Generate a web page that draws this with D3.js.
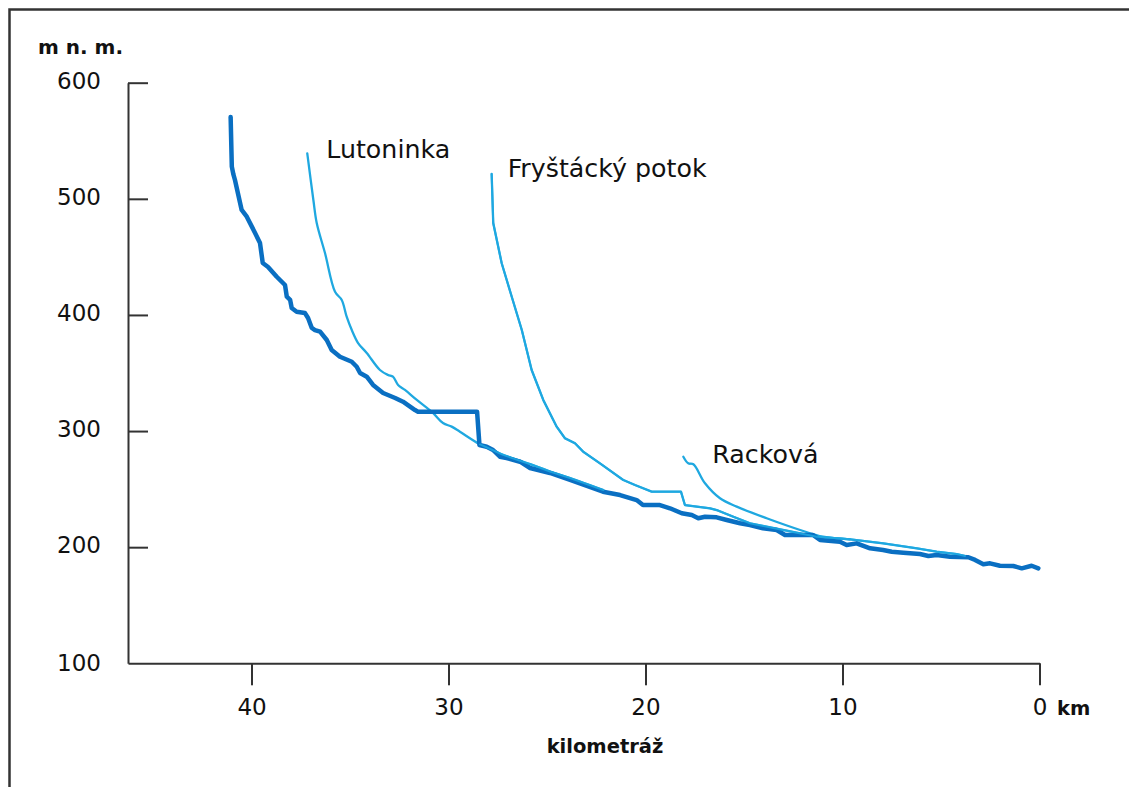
<!DOCTYPE html>
<html>
<head>
<meta charset="utf-8">
<script src="https://cdn.jsdelivr.net/npm/d3@7"></script>
<style>
  html, body { margin: 0; padding: 0; background: #fff; }
  svg { display: block; }
  text { font-family: "DejaVu Sans", Verdana, sans-serif; fill: #111; }
</style>
</head>
<body>
<svg id="chart" width="1129" height="787"></svg>
<script>
// ---- data (km from mouth, elevation m n. m.) ----
const mainKm = [41.06,41.00,40.92,40.84,40.50,40.24,39.82,39.57,39.43,39.16,38.72,38.30,38.21,38.04,37.96,37.71,37.29,37.13,36.94,36.78,36.52,36.18,35.93,35.51,34.91,34.66,34.49,34.15,33.83,33.32,32.71,32.31,32.06,31.70,31.55,28.55,28.43,28.06,27.74,27.39,27.05,26.37,25.86,24.85,23.83,22.16,21.29,20.45,20.13,19.27,18.76,18.16,17.65,17.32,16.98,16.39,15.88,15.20,14.70,14.04,13.34,12.92,11.50,11.14,10.13,9.79,9.28,8.60,7.94,7.50,6.91,6.07,5.64,5.22,4.54,3.61,3.27,2.85,2.51,2.01,1.33,0.90,0.40,0.06];
const mainElev = [570.5,527.7,521.0,516.2,490.4,484.6,470.6,462.0,444.7,441.3,432.9,425.8,415.7,413.0,406.0,402.8,401.7,397.4,388.8,387.0,385.6,378.4,369.8,364.0,359.7,355.4,350.0,346.8,339.7,332.8,328.5,325.3,322.4,318.1,316.7,316.7,288.0,286.5,283.7,277.9,276.8,273.6,268.2,263.9,257.9,247.8,244.9,240.6,236.3,236.3,233.5,229.2,227.7,224.9,226.2,225.7,223.4,220.6,219.1,216.3,214.8,210.5,210.5,206.2,204.7,201.9,203.3,199.0,197.6,196.1,195.2,194.1,192.4,193.3,191.8,191.3,189.0,185.3,186.1,184.0,183.8,181.8,184.0,181.8];

const lutoninkaKm = [37.17,36.86,36.69,36.27,35.76,35.42,35.17,34.91,34.59,34.15,33.48,33.07,32.82,32.56,32.21,31.61,30.79,30.28,29.84,29.42,28.40,27.74,27.23,26.73,25.52,24.85,23.83,22.14];
const lutoninkaElev = [539.2,499.0,479.2,453.3,420.0,412.9,398.5,387.0,375.8,367.2,352.6,348.3,346.8,339.7,335.4,326.8,315.6,306.9,303.8,299.4,288.5,283.5,279.5,276.5,269.5,265.2,259.6,249.2];

const frystackyKm = [27.81,27.73,27.30,26.79,26.28,25.78,25.19,24.51,24.09,23.58,23.16,22.31,21.13,20.53,19.69,18.20,18.00,16.73,16.39,15.54,14.70,13.02,11.31,9.62,7.94,6.23,5.22,4.20,3.78];
const frystackyElev = [521.4,479.2,444.5,415.7,387.0,352.6,326.8,303.8,293.8,289.5,282.2,272.2,257.9,253.5,247.8,247.8,236.3,233.5,232.0,226.2,220.6,214.8,209.0,206.8,203.3,199.0,196.1,194.1,192.4];

const rackovaKm = [18.08,17.83,17.57,16.98,16.22,15.37,13.85,12.15,10.99,9.62];
const rackovaElev = [277.9,272.2,271.4,255.0,242.1,234.9,224.9,214.8,209.0,206.8];

const xTicks = [40, 30, 20, 10, 0];
const yTicks = [200, 300, 400, 500, 600];
const tributaryNames = ["Lutoninka", "Fryštácký potok", "Racková"];

// ---- drawing ----
const svg = d3.select("#chart");
const x = d3.scaleLinear().domain([46.27, 0]).range([128, 1039.5]);
const y = d3.scaleLinear().domain([100, 600]).range([663.3, 82.7]);

// frame (left and top edges)
svg.append("path")
  .attr("d", "M9.5,787 L9.5,9.5 L1129,9.5")
  .attr("fill", "none").attr("stroke", "#333").attr("stroke-width", 2.5);

// axes
const yAxis = d3.axisLeft(y).tickValues(yTicks).tickSize(-20).tickSizeOuter(0).tickPadding(27).tickFormat(d3.format("d"));
const gy = svg.append("g").attr("transform", "translate(128,0)").call(yAxis);
gy.selectAll("text").style("font-size", "23px").attr("fill", "#111").attr("dy", "0.25em");
gy.append("text").attr("x", -27).attr("y", y(100)).attr("dy", "0.32em")
  .attr("text-anchor", "end").style("font-size", "23px").attr("fill", "#111").text("100");

const xAxis = d3.axisBottom(x).tickValues(xTicks).tickSize(22).tickSizeOuter(0).tickPadding(13).tickFormat(d3.format("d"));
const gx = svg.append("g").attr("transform", `translate(0,${y(100)})`).call(xAxis);
gx.selectAll("text").style("font-size", "23px").attr("fill", "#111");

[gx, gy].forEach(g => {
  g.selectAll(".domain, .tick line").attr("stroke", "#333").attr("stroke-width", 2);
  g.select(".domain").attr("fill", "none");
});

// axis titles
svg.append("text").attr("x", 38).attr("y", 54).style("font-size", "20px").style("font-weight", "bold").text("m n. m.");
svg.append("text").attr("x", 1057).attr("y", 715).style("font-size", "19.5px").style("font-weight", "bold").text("km");
svg.append("text").attr("x", 605).attr("y", 753).attr("text-anchor", "middle").style("font-size", "19.5px").style("font-weight", "bold").text("kilometráž");

// lines
const lineLin = d3.line().x(d => x(d[0])).y(d => y(d[1]));
const lineSmooth = d3.line().x(d => x(d[0])).y(d => y(d[1])).curve(d3.curveCatmullRom.alpha(0.5));
const zip = (a, b) => a.map((v, i) => [v, b[i]]);

const light = "#1FA8E0";
const dark = "#0A6FC2";

[[lutoninkaKm, lutoninkaElev, lineSmooth], [frystackyKm, frystackyElev, lineLin], [rackovaKm, rackovaElev, lineSmooth]].forEach(([k, e, gen]) => {
  svg.append("path").datum(zip(k, e)).attr("d", gen)
    .attr("fill", "none").attr("stroke", light).attr("stroke-width", 2.3)
    .attr("stroke-linejoin", "round").attr("stroke-linecap", "round");
});

svg.append("path").datum(zip(mainKm, mainElev)).attr("d", lineLin)
  .attr("fill", "none").attr("stroke", dark).attr("stroke-width", 4.5)
  .attr("stroke-linejoin", "round").attr("stroke-linecap", "round");

// redraw the light lines on top where they run just above the main river
[[lutoninkaKm, lutoninkaElev], [frystackyKm, frystackyElev]].forEach(([k, e]) => {
  const pts = zip(k, e).filter(d => d[0] < 28.5);
  svg.append("path").datum(pts).attr("d", lineLin)
    .attr("fill", "none").attr("stroke", light).attr("stroke-width", 2)
    .attr("stroke-linejoin", "round").attr("stroke-linecap", "round").attr("opacity", 0.85);
});

// tributary labels, anchored to the start of each tributary
const starts = [[lutoninkaKm[0], lutoninkaElev[0]], [frystackyKm[0], frystackyElev[0]], [rackovaKm[0], rackovaElev[0]]];
const offs = [[19, 5], [16, 3], [29, 6]];
tributaryNames.forEach((n, i) => {
  svg.append("text").attr("x", x(starts[i][0]) + offs[i][0]).attr("y", y(starts[i][1]) + offs[i][1])
    .style("font-size", "25.3px").text(n);
});
</script>
</body>
</html>
